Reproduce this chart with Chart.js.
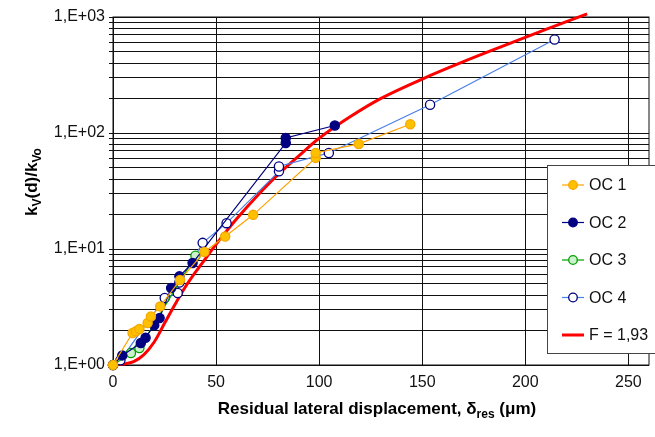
<!DOCTYPE html>
<html>
<head>
<meta charset="utf-8">
<script src="https://cdn.jsdelivr.net/npm/chart.js@4.4.0/dist/chart.umd.min.js"></script>
<style>
  html, body { margin: 0; padding: 0; background: #fff; }
</style>
</head>
<body>
<canvas id="chart" width="655" height="437"></canvas>
<script>
// measured series: residual displacement (um) vs stiffness ratio kV(d)/kVo
const oc1X = [0, 9.5, 11.1, 12.8, 16.8, 18.4, 22.9, 32.5, 44.3, 54.4, 68, 98.3, 98.3, 119.2, 144.2];
const oc1Y = [1, 1.89, 1.95, 2.04, 2.30, 2.62, 3.20, 5.4, 9.44, 12.8, 19.7, 61, 67.3, 80.5, 119];

const oc2X = [0, 4.5, 13.5, 15.8, 20, 22.6, 28.2, 32.2, 38.6, 83.8, 83.8, 107.6];
const oc2Y = [1, 1.21, 1.55, 1.72, 2.2, 2.54, 4.61, 5.81, 7.57, 82, 90.6, 116];

const oc3X = [0, 8.7, 12.8, 40];
const oc3Y = [1, 1.27, 1.40, 8.74];

const oc4X = [0, 3.6, 25.1, 31.4, 32.2, 43.5, 55.1, 80.5, 80.5, 104.7, 153.8, 214.2];
const oc4Y = [1, 1.10, 3.78, 4.17, 5.15, 11.3, 16.7, 46.7, 51.5, 67.3, 175, 640];

// model curve F = 1,93
const fitX = [0, 5, 10, 15, 20, 25, 30, 35, 40, 45, 50, 60, 70, 80, 90, 100, 115, 130, 150, 170, 190, 210, 230];
const fitY = [1, 1.02, 1.07, 1.23, 1.58, 2.29, 3.31, 4.68, 6.31, 8.32, 10.96, 18.2, 28.8, 43.7, 63.1, 90.2, 138, 199, 292, 412, 569, 782, 1066];

const xTicks = [0, 50, 100, 150, 200, 250];
const yDecades = [1, 10, 100, 1000];

function pts(xs, ys) {
  return xs.map((x, i) => ({ x: x, y: ys[i] }));
}

function series(label, xs, ys, line, fill, edge) {
  return {
    label: label,
    data: pts(xs, ys),
    borderColor: line,
    borderWidth: 1.2,
    pointRadius: 4.6,
    pointBackgroundColor: fill,
    pointBorderColor: edge,
    pointBorderWidth: 1.3,
    clip: false
  };
}

// frame round the plot area (right edge is not a tick)
const framePlugin = {
  id: 'frame',
  beforeDatasetsDraw(chart) {
    const a = chart.chartArea, ctx = chart.ctx;
    ctx.save();
    ctx.strokeStyle = '#111';
    ctx.lineWidth = 1;
    ctx.strokeRect(a.left, a.top, a.right - a.left, a.bottom - a.top);
    ctx.restore();
  }
};

// draws a run of text pieces, some of them subscripts
function drawRuns(ctx, runs, cx, cy) {
  let total = 0;
  runs.forEach(r => { ctx.font = r.font; r.w = ctx.measureText(r.t).width; total += r.w; });
  let x = cx - total / 2;
  ctx.textBaseline = 'alphabetic';
  ctx.textAlign = 'left';
  runs.forEach(r => {
    ctx.font = r.font;
    ctx.fillText(r.t, x, cy + (r.dy || 0));
    x += r.w;
  });
}

const titlePlugin = {
  id: 'titles',
  afterDraw(chart) {
    const ctx = chart.ctx;
    const big = 'bold 17px "Liberation Sans", Arial, sans-serif';
    const sub = 'bold 12px "Liberation Sans", Arial, sans-serif';
    ctx.save();
    ctx.fillStyle = '#000';
    drawRuns(ctx, [
      { t: 'Residual lateral displacement, \u03b4', font: big },
      { t: 'res', font: sub, dy: 4 },
      { t: ' (\u03bcm)', font: big }
    ], 377, 414);
    ctx.translate(37, 182);
    ctx.rotate(-Math.PI / 2);
    drawRuns(ctx, [
      { t: 'k', font: big },
      { t: 'V', font: sub, dy: 4 },
      { t: '(d)/k', font: big },
      { t: 'Vo', font: sub, dy: 4 }
    ], 0, 0);
    ctx.restore();
  }
};

const legendPlugin = {
  id: 'boxLegend',
  afterDraw(chart) {
    const ctx = chart.ctx;
    ctx.save();
    ctx.fillStyle = '#fff';
    ctx.fillRect(547, 165, 112, 188);
    ctx.strokeStyle = '#444';
    ctx.lineWidth = 1;
    ctx.strokeRect(547.5, 165.5, 112, 188);
    ctx.font = '16px "Liberation Sans", Arial, sans-serif';
    ctx.textBaseline = 'middle';
    chart.data.datasets.forEach((ds, i) => {
      const y = 185 + i * 37.5;
      ctx.strokeStyle = ds.borderColor;
      ctx.lineWidth = ds.borderWidth;
      ctx.beginPath();
      ctx.moveTo(562, y);
      ctx.lineTo(584, y);
      ctx.stroke();
      if (ds.pointRadius > 0) {
        ctx.beginPath();
        ctx.arc(573, y, 4.3, 0, Math.PI * 2);
        ctx.fillStyle = ds.pointBackgroundColor;
        ctx.fill();
        ctx.lineWidth = ds.pointBorderWidth;
        ctx.strokeStyle = ds.pointBorderColor;
        ctx.stroke();
      }
      ctx.fillStyle = '#111';
      ctx.fillText(ds.label, 589, y + 1);
    });
    ctx.restore();
  }
};

const fit = {
  label: 'F = 1,93',
  data: pts(fitX, fitY),
  borderColor: '#ff0000',
  borderWidth: 3,
  pointRadius: 0,
  tension: 0.35,
  clip: false
};

new Chart(document.getElementById('chart'), {
  type: 'line',
  data: {
    datasets: [
      series('OC 1', oc1X, oc1Y, '#ffa200', '#ffc000', '#f5a800'),
      series('OC 2', oc2X, oc2Y, '#000080', '#000080', '#000080'),
      series('OC 3', oc3X, oc3Y, '#00a000', '#ccf2cc', '#00a000'),
      series('OC 4', oc4X, oc4Y, '#4a7fe8', '#ffffff', '#000080'),
      fit
    ]
  },
  options: {
    responsive: false,
    animation: false,
    layout: { padding: { top: 17, right: 6, bottom: 0, left: 0 } },
    plugins: { legend: { display: false }, tooltip: { enabled: false } },
    scales: {
      x: {
        type: 'linear',
        min: 0,
        max: 260,
        afterBuildTicks: s => { s.ticks = xTicks.map(v => ({ value: v })); },
        afterFit: s => { s.height = 72; },
        grid: { color: '#111', lineWidth: 1, drawTicks: false },
        border: { display: false },
        ticks: {
          color: '#111',
          padding: 8,
          maxRotation: 0,
          font: { size: 16, family: '"Liberation Sans", Arial, sans-serif' }
        }
      },
      y: {
        type: 'logarithmic',
        min: 1,
        max: 1000,
        afterBuildTicks: s => {
          const t = [];
          for (let d = 0; d < yDecades.length - 1; d++) {
            for (let m = 1; m < 10; m++) t.push({ value: m * yDecades[d] });
          }
          t.push({ value: yDecades[yDecades.length - 1] });
          s.ticks = t;
        },
        afterFit: s => { s.width = 113; },
        grid: { color: '#111', lineWidth: 1, tickLength: 4 },
        border: { display: false },
        ticks: {
          color: '#111',
          padding: 4,
          autoSkip: false,
          font: { size: 16, family: '"Liberation Sans", Arial, sans-serif' },
          callback: v => yDecades.includes(v) ? '1,E+0' + Math.round(Math.log10(v)) : ''
        }
      }
    }
  },
  plugins: [framePlugin, titlePlugin, legendPlugin]
});
</script>
</body>
</html>
